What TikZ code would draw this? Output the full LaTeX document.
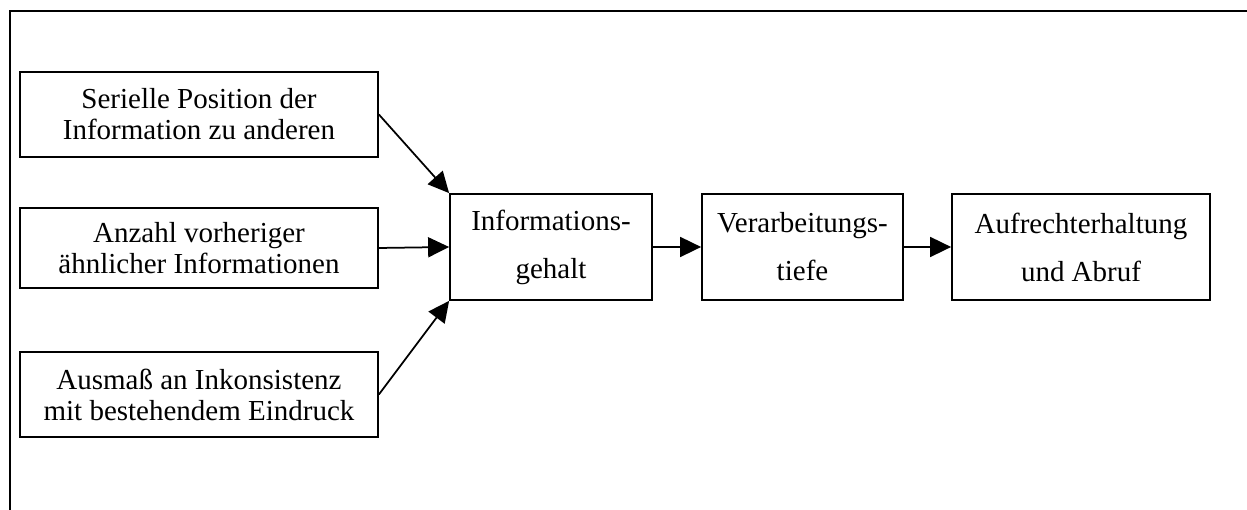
\documentclass[tikz,border=0pt]{standalone}
\usepackage{fontspec}
\setmainfont{Liberation Serif}
\usetikzlibrary{arrows.meta}

\begin{document}
\begin{tikzpicture}[x=0.4pt, y=-0.4pt]
	\tikzstyle{every node} = [draw, line width=0.7pt, align=center, inner sep=0pt, font=\fontsize{11.6}{12.4}\selectfont]
	\tikzstyle{factor} = [minimum width=143.2pt, minimum height=34pt]
	\tikzstyle{stage} = [minimum height=42.4pt, font=\fontsize{11.6}{19.2}\selectfont]
	\tikzstyle{pfeil} = [line width=0.7pt, -{Triangle[length=8.4pt, width=8pt]}]
	\useasboundingbox (0,0) rectangle (1247,510);
	\draw[line width=1.1pt] (10,510) -- (10,11) -- (1247,11);
	% Einflussfaktoren
	\node[factor] (serial) at (199,114.5) {Serielle Position der\\Information zu anderen};
	\node[factor, minimum height=32pt] (anzahl) at (199,248) {Anzahl vorheriger\\ähnlicher Informationen};
	\node[factor] (ausmass) at (199,394.5) {Ausmaß an Inkonsistenz\\mit bestehendem Eindruck};
	% Verarbeitungskette
	\node[stage, minimum width=80.8pt] (gehalt) at (551,247) {Informations-\\gehalt};
	\node[stage, minimum width=80.4pt] (tiefe) at (802.5,247) {Verarbeitungs-\\tiefe};
	\node[stage, minimum width=103.2pt] (abruf) at (1081,247) {Aufrechterhaltung\\und Abruf};
	\draw[pfeil] (serial.east) to (gehalt.north west); \draw[pfeil] (anzahl.east) to (gehalt.west); \draw[pfeil] (ausmass.east) to (gehalt.south west);
	\draw[pfeil] (gehalt) to (tiefe); \draw[pfeil] (tiefe) to (abruf);
\end{tikzpicture}
\end{document}
